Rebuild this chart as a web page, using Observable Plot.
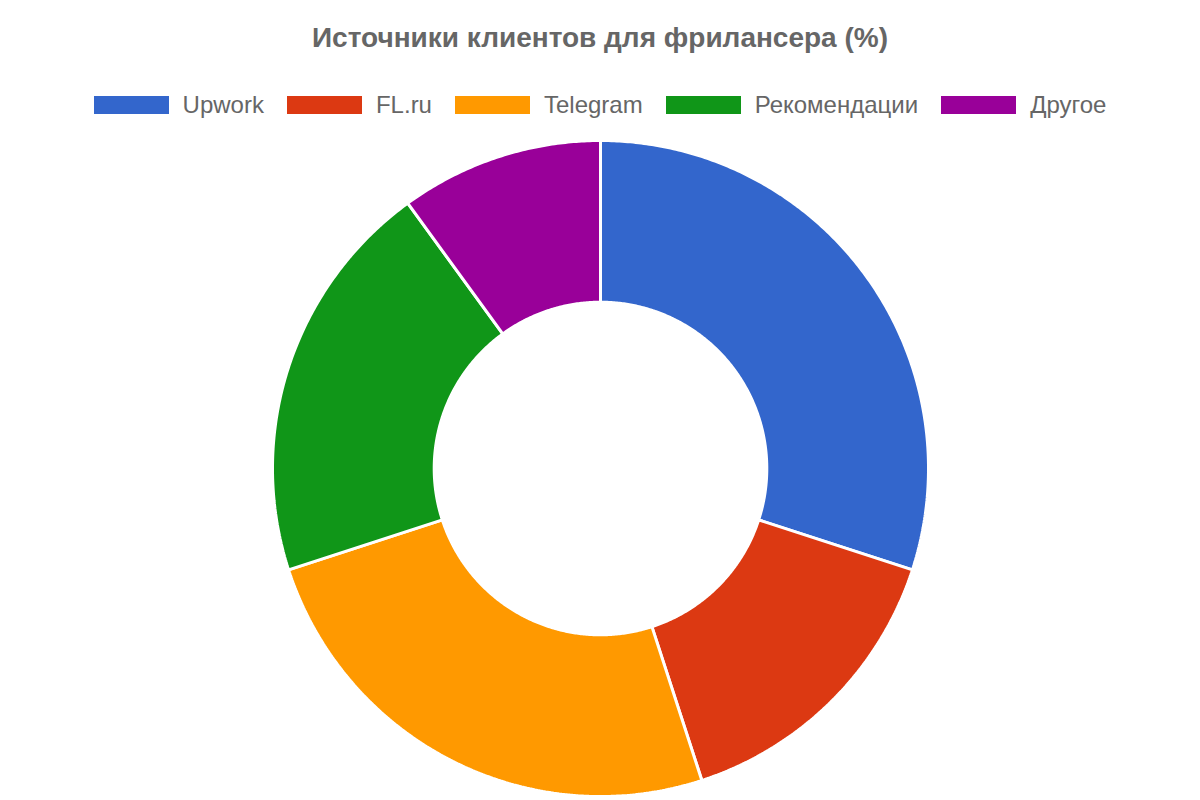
<!DOCTYPE html>
<html>
<head>
<meta charset="utf-8">
<script src="https://cdn.jsdelivr.net/npm/d3@7"></script>
<script src="https://cdn.jsdelivr.net/npm/@observablehq/plot@0.6"></script>
<style>
  html, body { margin: 0; padding: 0; background: #fff; }
  body { width: 1200px; height: 800px; overflow: hidden; font-family: "Liberation Sans", Arial, sans-serif; }
  #title { height: 76px; line-height: 76px; text-align: center; font-size: 28px; font-weight: bold; color: #666; }
  #legend { display: flex; justify-content: center; align-items: center; height: 58px; margin-top: 0; }
  .item { display: flex; align-items: center; margin: 0 11.5px; }
  .sw { width: 75px; height: 18px; margin-right: 14px; box-sizing: border-box; }
  .lab { font-size: 24px; color: #666; }
  #chart svg { display: block; }
</style>
</head>
<body>
<div id="title">Источники клиентов для фрилансера (%)</div>
<div id="legend"></div>
<div id="chart"></div>
<script>
const categories = ["Upwork", "FL.ru", "Telegram", "Рекомендации", "Другое"];
const values = [30, 15, 25, 20, 10];
const colors = ["#3366cc", "#dc3912", "#ff9900", "#109618", "#990099"];

const legend = document.getElementById("legend");
categories.forEach((c, i) => {
  const it = document.createElement("div");
  it.className = "item";
  const sw = document.createElement("div");
  sw.className = "sw";
  sw.style.background = colors[i];
  const lab = document.createElement("span");
  lab.className = "lab";
  lab.textContent = c;
  it.appendChild(sw); it.appendChild(lab);
  legend.appendChild(it);
});

const innerRatio = 0.507;
const arcs = d3.pie().sort(null).value(d => d.value)(categories.map((c, i) => ({key: c, value: values[i]})));
const pts = [];
for (const a of arcs) {
  const n = Math.max(8, Math.ceil((a.endAngle - a.startAngle) * 120));
  for (let k = 0; k <= n; k++) {
    const t = a.startAngle + (a.endAngle - a.startAngle) * k / n;
    pts.push({key: a.data.key, x: Math.sin(t), y: Math.cos(t)});
  }
  for (let k = n; k >= 0; k--) {
    const t = a.startAngle + (a.endAngle - a.startAngle) * k / n;
    pts.push({key: a.data.key, x: innerRatio * Math.sin(t), y: innerRatio * Math.cos(t)});
  }
}

const R = 328, cx = 600, cy = 334;
const plot = Plot.plot({
  width: 1200,
  height: 666,
  margin: 0,
  x: {domain: [-1, 1], range: [cx - R, cx + R], axis: null},
  y: {domain: [-1, 1], range: [cy + R, cy - R], axis: null},
  color: {domain: categories, range: colors},
  marks: [
    Plot.line(pts, {x: "x", y: "y", z: "key", fill: "key", stroke: "white", strokeWidth: 3, curve: "linear-closed", strokeLinejoin: "miter"})
  ]
});
document.getElementById("chart").appendChild(plot);
</script>
</body>
</html>
